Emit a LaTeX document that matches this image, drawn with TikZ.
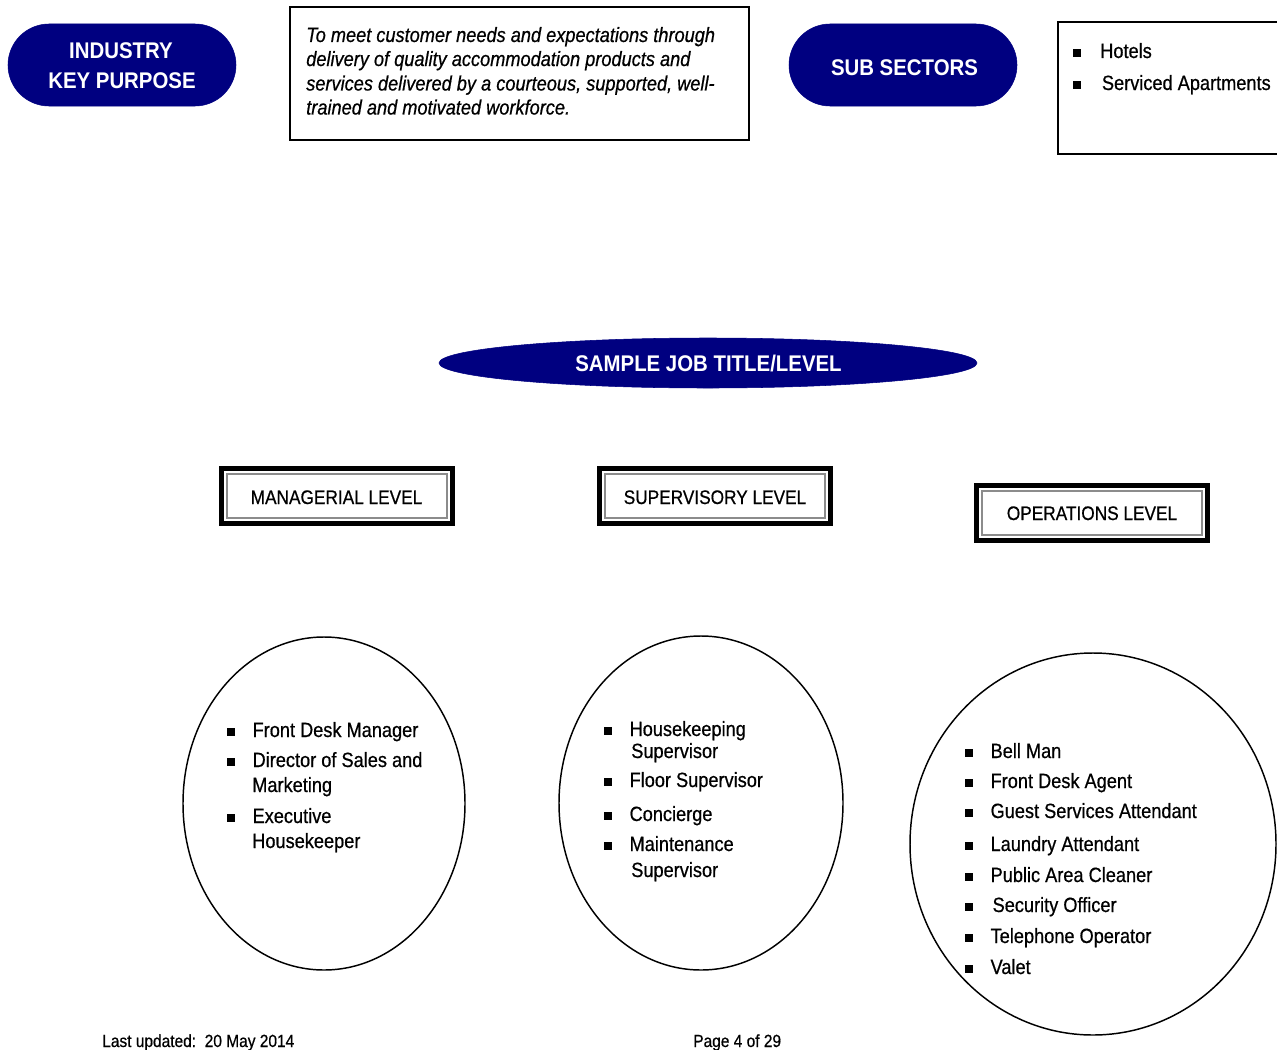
\documentclass[tikz,border=0pt]{standalone}
\usepackage{fontspec}
\setmainfont{Liberation Sans}[FakeStretch=0.9]
\newfontfamily\lf{Liberation Sans}[FakeStretch=0.88, FakeBold=0.6]
\usetikzlibrary{shapes.geometric,shapes.misc}
\definecolor{navy}{RGB}{0,0,128}
\newcommand\bul{\makebox[19pt][l]{\rule[0.75pt]{5.8pt}{5.8pt}}}
\tikzset{
  pill/.style={rounded rectangle, fill=navy, draw=navy, inner sep=0pt, minimum width=171pt, minimum height=61.5pt},
  whitetxt/.style={text=white, font=\bfseries\fontsize{17}{20}\selectfont, inner sep=0pt, anchor=base},
  frame/.style={draw=black, line width=1.3pt, inner sep=0pt},
  ittxt/.style={font=\lf\itshape\fontsize{15.5}{18}\selectfont, inner sep=0pt, anchor=base west},
  lt/.style={font=\lf\fontsize{15.5}{18}\selectfont, inner sep=0pt, anchor=base west},
  lvlouter/.style={draw=black, line width=3.75pt, inner sep=0pt, minimum width=173.25pt, minimum height=41.25pt},
  lvlinner/.style={draw=black!45, line width=1.5pt, inner sep=0pt, minimum width=165pt, minimum height=33pt},
  lvltxt/.style={font=\lf\fontsize{14.7}{17}\selectfont, inner sep=0pt, anchor=base},
  oval/.style={ellipse, draw=black, line width=1.1pt, inner sep=0pt},
  foot/.style={font=\lf\fontsize{13.2}{15}\selectfont, inner sep=0pt, anchor=base west}
}
\begin{document}
\begin{tikzpicture}[x=0.75pt,y=-0.75pt]
\useasboundingbox (0,0) rectangle (1277,1049);
\fill[white] (0,0) rectangle (1277,1049);

% top row
\node[pill] (ikp) at (122,65) {};
\node[whitetxt] (ikp1) at (121,59) {INDUSTRY};
\node[whitetxt] (ikp2) at (122,89) {KEY PURPOSE};

\node[frame, minimum width=344.25pt, minimum height=99.75pt] (purpose) at (519.5,73.5) {};
\node[ittxt] (p1) at (306,42) {To meet customer needs and expectations through};
\node[ittxt] (p2) at (306,66) {delivery of quality accommodation products and};
\node[ittxt] (p3) at (306,90.5) {services delivered by a courteous, supported, well-};
\node[ittxt] (p4) at (306,114.5) {trained and motivated workforce.};

\node[pill] (sub) at (903,65) {};
\node[whitetxt] (subt) at (904.5,75.5) {SUB SECTORS};

\node[frame, minimum width=174pt, minimum height=99pt] (subbox) at (1174,88) {};
\node[lt] (s1) at (1073,58) {\makebox[20.25pt][l]{\rule[0.75pt]{5.8pt}{5.8pt}}Hotels};
\node[lt] (s2) at (1073,90) {\makebox[21.5pt][l]{\rule[0.75pt]{5.8pt}{5.8pt}}Serviced Apartments};

% sample job title
\node[ellipse, fill=navy, draw=navy, inner sep=0pt, minimum width=403.5pt, minimum height=37.5pt] (sample) at (708,363) {};
\node[whitetxt] (samplet) at (708.5,371.5) {SAMPLE JOB TITLE/LEVEL};

% level boxes
\node[lvlouter] (mgr) at (337,496) {};
\node[lvlinner] (mgri) at (337,496) {};
\node[lvltxt] (mgrt) at (336.5,504) {MANAGERIAL LEVEL};

\node[lvlouter] (sup) at (714.5,496) {};
\node[lvlinner] (supi) at (714.5,496) {};
\node[lvltxt] (supt) at (715,504) {SUPERVISORY LEVEL};

\node[lvlouter] (ops) at (1092,512.5) {};
\node[lvlinner] (opsi) at (1092,512.5) {};
\node[lvltxt] (opst) at (1092,520) {OPERATIONS LEVEL};

% ovals
\node[oval, minimum width=211.5pt, minimum height=249.75pt] (c1) at (324,803.5) {};
\node[oval, minimum width=213pt, minimum height=250.5pt] (c2) at (701,803) {};
\node[oval, minimum width=274.5pt, minimum height=286.5pt] (c3) at (1093,844) {};

% managerial list
\node[lt] (a1) at (227,737) {\bul Front Desk Manager};
\node[lt] (a2) at (227,767) {\bul Director of Sales and};
\node[lt] (a3) at (252,792) {Marketing};
\node[lt] (a4) at (227,823) {\bul Executive};
\node[lt] (a5) at (252,848) {Housekeeper};

% supervisory list
\node[lt] (b1) at (604,736) {\bul Housekeeping};
\node[lt] (b2) at (631,758) {Supervisor};
\node[lt] (b3) at (604,787) {\bul Floor Supervisor};
\node[lt] (b4) at (604,821) {\bul Concierge};
\node[lt] (b5) at (604,851) {\bul Maintenance};
\node[lt] (b6) at (631,877) {Supervisor};

% operations list
\node[lt] (o1) at (965,758) {\bul Bell Man};
\node[lt] (o2) at (965,788) {\bul Front Desk Agent};
\node[lt] (o3) at (965,818) {\bul Guest Services Attendant};
\node[lt] (o4) at (965,851) {\bul Laundry Attendant};
\node[lt] (o5) at (965,882) {\bul Public Area Cleaner};
\node[lt] (o6) at (965,912) {\makebox[20.5pt][l]{\rule[0.75pt]{5.8pt}{5.8pt}}Security Officer};
\node[lt] (o7) at (965,943) {\bul Telephone Operator};
\node[lt] (o8) at (965,974) {\bul Valet};

% footer
\node[foot] (f1) at (102,1047) {Last updated:\ \ 20 May 2014};
\node[foot] (f2) at (693,1047) {Page 4 of 29};
\end{tikzpicture}
\end{document}
